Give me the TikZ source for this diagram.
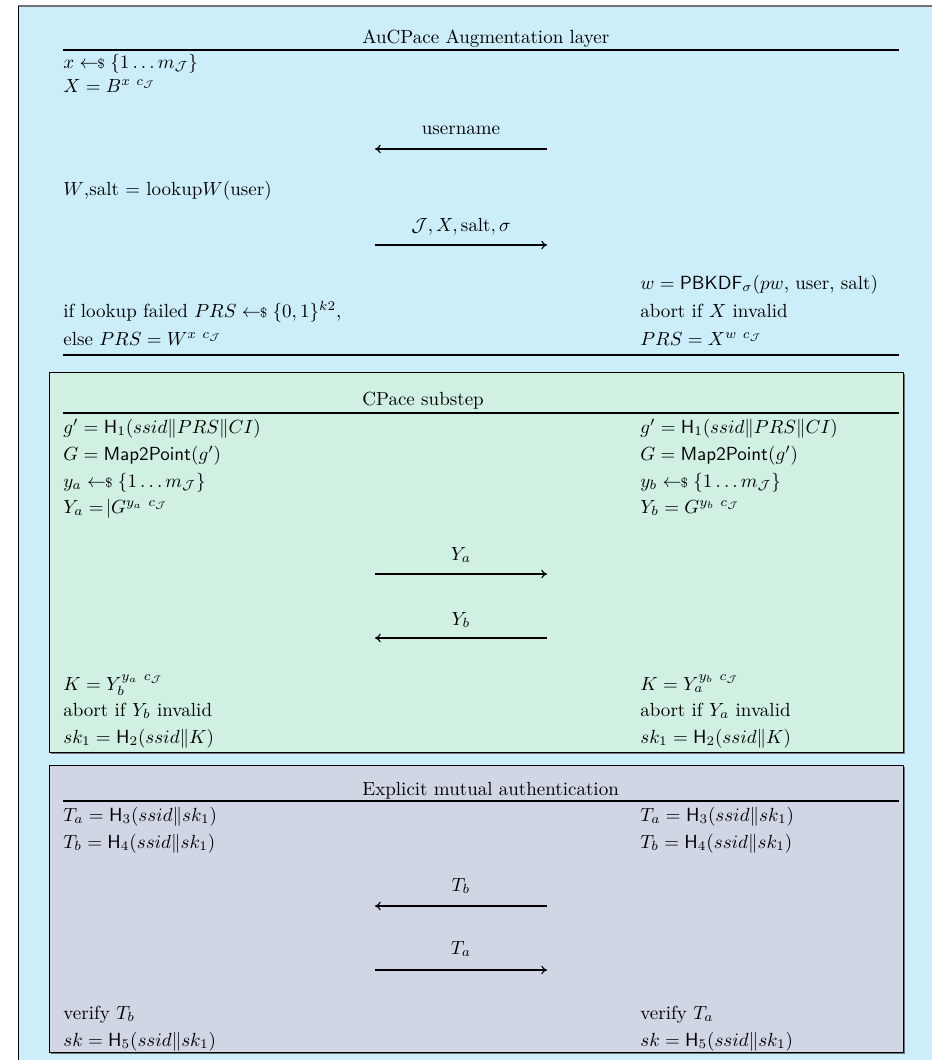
\documentclass[tikz,border=0pt]{standalone}
\usepackage{amsmath,amssymb}
\usetikzlibrary{arrows.meta}
\definecolor{outerblue}{RGB}{204,238,250}
\definecolor{greenbox}{RGB}{208,240,226}
\definecolor{graybox}{RGB}{208,214,228}
\newcommand{\rndsample}{\mathrel{\leftarrow\!\!{\scriptstyle\$}}}
\newcommand{\cJ}{c_{\mathcal{J}}}
\tikzset{
  lft/.style={anchor=base west, inner sep=0pt},
  rgt/.style={anchor=base west, inner sep=0pt},
  ttl/.style={anchor=base west, inner sep=0pt},
  msg/.style={anchor=base, inner sep=0pt},
  hrule/.style={line width=0.8pt},
  msgarrow/.style={-{To[length=3pt,width=4.5pt]}, line width=0.6pt},
  boxshadow/.style={fill=black!55},
  innerbox/.style={draw=black, line width=0.5pt}
}
\begin{document}
\begin{tikzpicture}[x=0.526pt,y=-0.526pt]
\useasboundingbox (0,0) rectangle (932,1060);
\clip (0,0) rectangle (932,1060);
% outer box
\fill[outerblue] (18,6) rectangle (960,1090);
\draw[black!55, line width=1pt] (18,6) -- (960,6);
\draw[black, line width=0.5pt] (18,6) -- (18,1090);

% ---------- Section 1 ----------
\node[ttl] (t1) at (362,43) {AuCPace Augmentation layer};
\draw[hrule] (63,50) -- (899,50);
\node[lft] (a1) at (63,68) {$x \rndsample \{1\ldots m_{\mathcal{J}}\}$};
\node[lft] (a2) at (63,92) {$X = B^{x\ \cJ}$};
\node[msg] (m1) at (461,134) {username};
\coordinate (m1s) at (547,149);
\coordinate (m1e) at (375,149);
\draw[msgarrow] (m1s) -- (m1e);
\node[lft] (a3) at (63,195) {$W$,salt $=$ lookup$W$(user)};
\node[msg] (m2) at (461,231) {$\mathcal{J}, X, \mathrm{salt}, \sigma$};
\coordinate (m2s) at (375,245);
\coordinate (m2e) at (547,245);
\draw[msgarrow] (m2s) -- (m2e);
\node[rgt] (b1) at (640,289) {$w = \mathsf{PBKDF}_{\sigma}(pw$, user, salt$)$};
\node[lft] (a4) at (63,317) {if lookup failed $PRS \rndsample \{0,1\}^{k2}$,};
\node[rgt] (b2) at (640,317) {abort if $X$ invalid};
\node[lft] (a5) at (63,345) {else $PRS = W^{x\ \cJ}$};
\node[rgt] (b3) at (640,345) {$PRS = X^{w\ \cJ}$};
\draw[hrule] (63,355) -- (899,355);

% ---------- Section 2: CPace substep ----------
\fill[boxshadow] (51,374) rectangle (905,754);
\filldraw[innerbox, fill=greenbox] (49,372) rectangle (903,752);
\node[ttl] (t2) at (362,405) {CPace substep};
\draw[hrule] (63,413) -- (899,413);
\node[lft] (c1) at (63,433) {$g' = \mathsf{H}_1(ssid\|PRS\|CI)$};
\node[rgt] (d1) at (640,433) {$g' = \mathsf{H}_1(ssid\|PRS\|CI)$};
\node[lft] (c2) at (63,460) {$G = \mathsf{Map2Point}(g')$};
\node[rgt] (d2) at (640,460) {$G = \mathsf{Map2Point}(g')$};
\node[lft] (c3) at (63,487) {$y_a \rndsample \{1\ldots m_{\mathcal{J}}\}$};
\node[rgt] (d3) at (640,487) {$y_b \rndsample \{1\ldots m_{\mathcal{J}}\}$};
\node[lft] (c4) at (63,513) {$Y_a =\!|G^{y_a\ \cJ}$};
\node[rgt] (d4) at (640,513) {$Y_b = G^{y_b\ \cJ}$};
\node[msg] (m3) at (461,560) {$Y_a$};
\coordinate (m3s) at (375,574);
\coordinate (m3e) at (547,574);
\draw[msgarrow] (m3s) -- (m3e);
\node[msg] (m4) at (461,625) {$Y_b$};
\coordinate (m4s) at (547,638);
\coordinate (m4e) at (375,638);
\draw[msgarrow] (m4s) -- (m4e);
\node[lft] (c5) at (63,690) {$K = Y_b^{y_a\ \cJ}$};
\node[rgt] (d5) at (640,690) {$K = Y_a^{y_b\ \cJ}$};
\node[lft] (c6) at (63,716) {abort if $Y_b$ invalid};
\node[rgt] (d6) at (640,716) {abort if $Y_a$ invalid};
\node[lft] (c7) at (63,743) {$sk_1 = \mathsf{H}_2(ssid\|K)$};
\node[rgt] (d7) at (640,743) {$sk_1 = \mathsf{H}_2(ssid\|K)$};

% ---------- Section 3: Explicit mutual authentication ----------
\fill[boxshadow] (51,767) rectangle (905,1054);
\filldraw[innerbox, fill=graybox] (49,765) rectangle (903,1052);
\node[ttl] (t3) at (362,795) {Explicit mutual authentication};
\draw[hrule] (63,801) -- (899,801);
\node[lft] (e1) at (63,821) {$T_a = \mathsf{H}_3(ssid\|sk_1)$};
\node[rgt] (f1) at (640,821) {$T_a = \mathsf{H}_3(ssid\|sk_1)$};
\node[lft] (e2) at (63,848) {$T_b = \mathsf{H}_4(ssid\|sk_1)$};
\node[rgt] (f2) at (640,848) {$T_b = \mathsf{H}_4(ssid\|sk_1)$};
\node[msg] (m5) at (461,891) {$T_b$};
\coordinate (m5s) at (547,906);
\coordinate (m5e) at (375,906);
\draw[msgarrow] (m5s) -- (m5e);
\node[msg] (m6) at (461,954) {$T_a$};
\coordinate (m6s) at (375,970);
\coordinate (m6e) at (547,970);
\draw[msgarrow] (m6s) -- (m6e);
\node[lft] (e3) at (63,1019) {verify $T_b$};
\node[rgt] (f3) at (640,1019) {verify $T_a$};
\node[lft] (e4) at (63,1046) {$sk = \mathsf{H}_5(ssid\|sk_1)$};
\node[rgt] (f4) at (640,1046) {$sk = \mathsf{H}_5(ssid\|sk_1)$};
\end{tikzpicture}
\end{document}
